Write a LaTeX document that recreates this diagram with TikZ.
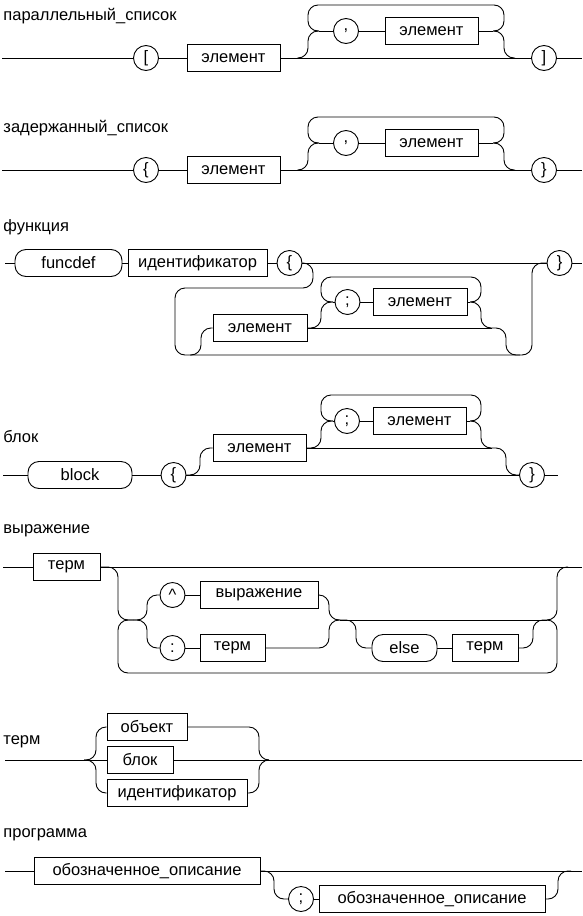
\documentclass[tikz,border=0pt]{standalone}
\usepackage{fontspec}
\setmainfont{Liberation Sans}
\tikzset{
    nt/.style = {draw, rectangle, minimum height = 27pt, inner sep = 0pt},
    tm/.style = {draw, circle, minimum size = 25pt, inner sep = 0pt},
    kw/.style = {draw, rounded corners = 11pt, minimum height = 27pt, inner sep = 0pt},
    title/.style = {anchor = west, inner sep = 0pt},
    rail/.style = {rounded corners = 10pt}
}
\begin{document}
\begin{tikzpicture}[x = 1pt, y = -1pt, line width = .9pt, font = \fontsize{16.5}{19}\selectfont]
    \useasboundingbox (0,0) rectangle (583,916);

    \node[title] (t1) at (3,16) {параллельный\_список};
    \coordinate (a1) at (2,58);
    \node[tm] (lb1) at (146,58) {[};
    \node[nt, minimum width = 93pt] (e1) at (233.5,58) {элемент};
    \node[tm] (cm1) at (346,31) {,};
    \node[nt, minimum width = 93pt] (e2) at (431.5,31) {элемент};
    \node[tm] (rb1) at (544,58) {]};
    \coordinate (z1) at (582,58);
    \coordinate (j1) at (319,31);
    \coordinate (k1) at (493,31);
    \coordinate (m1) at (515,58);
    \draw (a1) -- (lb1) -- (e1) -- (rb1) -- (z1);
    \draw (j1) -- (cm1) -- (e2) -- (k1);
    \draw[rail] (e1.east) ++(17,0) -| (308,31) -- (j1);
    \draw[rail] (j1) -| (308,5) -| (504,31) -- (k1);
    \draw[rail] (k1) -| (504,58) -- (m1);

    \node[title] (t2) at (3,128) {задержанный\_список};
    \coordinate (a2) at (2,170);
    \node[tm] (lb2) at (146,170) {\{};
    \node[nt, minimum width = 93pt] (e3) at (233.5,170) {элемент};
    \node[tm] (cm2) at (346,143) {,};
    \node[nt, minimum width = 93pt] (e4) at (431.5,143) {элемент};
    \node[tm] (rb2) at (544,170) {\}};
    \coordinate (z2) at (582,170);
    \coordinate (j2) at (319,143);
    \coordinate (k2) at (493,143);
    \coordinate (m2) at (515,170);
    \draw (a2) -- (lb2) -- (e3) -- (rb2) -- (z2);
    \draw (j2) -- (cm2) -- (e4) -- (k2);
    \draw[rail] (e3.east) ++(17,0) -| (308,143) -- (j2);
    \draw[rail] (j2) -| (308,117) -| (504,143) -- (k2);
    \draw[rail] (k2) -| (504,170) -- (m2);

    \node[title] (t3) at (3,227) {функция};
    \coordinate (a3) at (5,263);
    \node[kw, minimum width = 107pt] (fd) at (68.5,263) {funcdef};
    \node[nt, minimum width = 139pt] (id1) at (197.5,263) {идентификатор};
    \node[tm] (lc3) at (289.5,263) {\{};
    \node[tm] (rc3) at (559.5,263) {\}};
    \coordinate (z3) at (582,263);
    \draw (a3) -- (fd) -- (id1) -- (lc3) -- (rc3) -- (z3);
    \draw[rail] (lc3.east) -| (313,288) -| (175,355) -| (532,263) -- (rc3.west);
    \node[nt, minimum width = 94pt] (e5) at (260,328) {элемент};
    \node[tm] (sc3) at (347.5,302) {;};
    \node[nt, minimum width = 94pt] (e6) at (420,302) {элемент};
    \coordinate (b3) at (190,355);
    \coordinate (j3) at (333,302);
    \coordinate (k3) at (470,302);
    \coordinate (m3) at (492,328);
    \coordinate (n3) at (520,355);
    \draw[rail] (b3) -| (201,328) -- (e5.west);
    \draw (e5) -- (m3);
    \draw[rail] (m3) -| (506,355) -- (n3);
    \draw[rail] (e5.east) -| (321,302) -- (j3);
    \draw (j3) -- (sc3) -- (e6) -- (k3);
    \draw[rail] (j3) -| (321,277) -| (481,302) -- (k3);
    \draw[rail] (k3) -| (481,328) -- (m3);

    \node[title] (t4) at (3,437) {блок};
    \coordinate (a4) at (3,475);
    \node[kw, minimum width = 104pt] (bk) at (80,475) {block};
    \node[tm] (lc4) at (173.5,475) {\{};
    \node[tm] (rc4) at (532,475) {\}};
    \coordinate (z4) at (558,475);
    \draw (a4) -- (bk) -- (lc4) -- (rc4) -- (z4);
    \node[nt, minimum width = 93pt] (e7) at (259.5,448) {элемент};
    \node[tm] (sc4) at (347,421) {;};
    \node[nt, minimum width = 93pt] (e8) at (419.5,421) {элемент};
    \coordinate (j4) at (333,421);
    \coordinate (k4) at (470,421);
    \coordinate (m4) at (492,448);
    \draw[rail] (lc4.east) -| (200,448) -- (e7.west);
    \draw (e7) -- (m4);
    \draw[rail] (m4) -| (506,475) -- (rc4.west);
    \draw[rail] (e7.east) -| (321,421) -- (j4);
    \draw (j4) -- (sc4) -- (e8) -- (k4);
    \draw[rail] (j4) -| (321,395) -| (481,421) -- (k4);
    \draw[rail] (k4) -| (481,448) -- (m4);

    \node[title] (t5) at (3,531) {выражение};
    \coordinate (a5) at (3,567);
    \node[nt, minimum width = 67pt] (tr1) at (66.5,567) {терм};
    \coordinate (z5) at (582,567);
    \draw (a5) -- (tr1) -- (z5);
    \coordinate (j5) at (133,620);
    \node[tm] (ct) at (172.5,595) {\textasciicircum};
    \node[nt, minimum width = 118pt] (ex) at (259,595) {выражение};
    \node[tm] (cl) at (172.5,648) {:};
    \node[nt, minimum width = 65pt] (tr2) at (232.5,648) {терм};
    \coordinate (k5) at (340,620);
    \node[kw, minimum width = 65pt] (el) at (404.5,648) {else};
    \node[nt, minimum width = 66pt] (tr3) at (485,648) {терм};
    \coordinate (m5) at (547,620);
    \coordinate (n5) at (568,567);
    \draw[rail] (tr1.east) -| (118,620) -- (j5);
    \draw[rail] (j5) -| (118,673) -| (557,620) -- (m5);
    \draw[rail] (m5) -| (557,567) -- (n5);
    \draw[rail] (j5) -| (147,595) -- (ct);
    \draw[rail] (j5) -| (147,648) -- (cl);
    \draw (ct) -- (ex);
    \draw (cl) -- (tr2);
    \draw[rail] (ex.east) -| (329,620) -- (k5);
    \draw[rail] (tr2.east) -| (329,620) -- (k5);
    \draw (k5) -- (m5);
    \draw[rail] (k5) -| (356,648) -- (el.west);
    \draw (el) -- (tr3);
    \draw[rail] (tr3.east) -| (533,620) -- (m5);

    \node[title] (t6) at (3,742) {терм};
    \coordinate (a6) at (5,760);
    \coordinate (s6) at (84,760);
    \node[nt, minimum width = 80pt] (ob) at (147,727) {объект};
    \node[nt, minimum width = 66pt] (bl) at (140,760) {блок};
    \node[nt, minimum width = 140pt] (id2) at (177,793) {идентификатор};
    \coordinate (m6) at (269,760);
    \coordinate (z6) at (582,760);
    \draw (a6) -- (bl) -- (z6);
    \draw[rail] (s6) -| (96,727) -- (ob.west);
    \draw[rail] (s6) -| (96,793) -- (id2.west);
    \draw[rail] (ob.east) -| (259,760) -- (m6);
    \draw[rail] (id2.east) -| (259,760) -- (m6);

    \node[title] (t7) at (3,835) {программа};
    \coordinate (a7) at (5,871);
    \node[nt, minimum width = 226pt] (od1) at (147,871) {обозначенное\_описание};
    \coordinate (z7) at (582,871);
    \node[tm] (sc7) at (301,899) {;};
    \node[nt, minimum width = 226pt] (od2) at (432,899) {обозначенное\_описание};
    \coordinate (n7) at (571,871);
    \draw (a7) -- (od1) -- (z7);
    \draw[rail] (od1.east) -| (274,899) -- (sc7);
    \draw (sc7) -- (od2);
    \draw[rail] (od2.east) -| (558,871) -- (n7);
\end{tikzpicture}
\end{document}
